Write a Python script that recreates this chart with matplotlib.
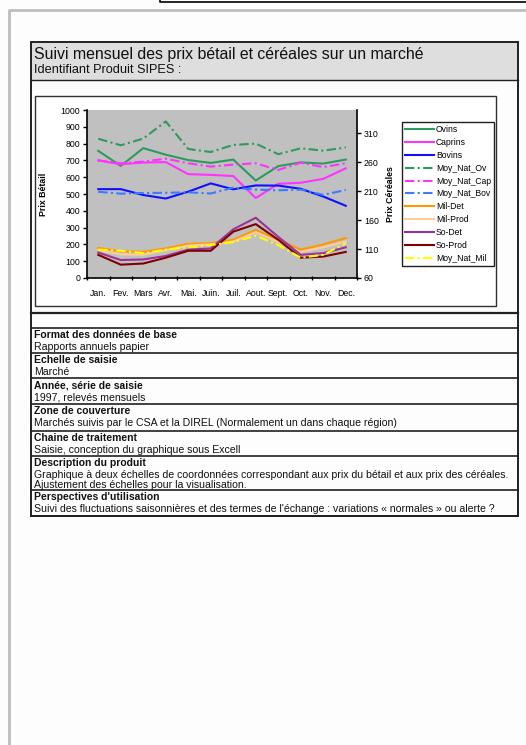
import numpy as np
import matplotlib
matplotlib.use('Agg')
from matplotlib import pyplot as plt
from matplotlib.patches import Rectangle

plt.rcParams['font.family'] = ['Liberation Sans', 'DejaVu Sans']

W, H = 526, 745

months = ['Jan.', 'Fev.', 'Mars', 'Avr.', 'Mai.', 'Juin.', 'Juil.', 'Aout.',
          'Sept.', 'Oct.', 'Nov.', 'Dec.']

# livestock prices (left axis)
ovins = [757, 667, 773, 734, 702, 685, 705, 580, 666, 688, 681, 705]
caprins = [700, 677, 687, 690, 618, 614, 607, 476, 561, 567, 590, 653]
bovins = [529, 529, 494, 473, 514, 563, 528, 551, 550, 531, 485, 430]
moy_nat_ov = [829, 790, 830, 932, 768, 750, 792, 800, 737, 772, 758, 777]
moy_nat_cap = [700, 683, 693, 710, 683, 663, 675, 683, 643, 686, 660, 683]
moy_nat_bov = [513, 502, 506, 507, 510, 503, 538, 526, 522, 526, 495, 524]

# cereal prices (right axis)
mil_det = [112, 106, 105, 111, 119, 120, 126, 143, 126, 109, 118, 129]
mil_prod = [108, 101, 100, 108, 116, 118, 123, 139, 122, 105, 113, 123]
so_det = [104, 91, 92, 98, 109, 111, 144, 164, 131, 100, 103, 113]
so_prod = [100, 83, 85, 95, 107, 107, 140, 153, 126, 95, 97, 105]
moy_nat_mil = [109, 107, 103, 109, 113, 117, 122, 133, 117, 95, 100, 120]

left_ticks = list(range(0, 1001, 100))
right_ticks = [60, 110, 160, 210, 260, 310]

rows = [
    ('Format des données de base', ['Rapports annuels papier']),
    ('Echelle de saisie', ['Marché']),
    ('Année, série de saisie', ['1997, relevés mensuels']),
    ('Zone de couverture',
     ['Marchés suivis par le CSA et la DIREL (Normalement un dans chaque région)']),
    ('Chaine de traitement', ['Saisie, conception du graphique sous Excell']),
    ('Description du produit',
     ['Graphique à deux échelles de coordonnées correspondant aux prix du bétail et aux prix des céréales.',
      'Ajustement des échelles pour la visualisation.']),
    ("Perspectives d'utilisation",
     ["Suivi des fluctuations saisonnières et des termes de l'échange : variations « normales » ou alerte ?"]),
]
row_lines = [328, 353, 378, 404, 431, 456, 490, 516]


def frac(x0, y0, x1, y1):
    return [x0 / W, 1 - y1 / H, (x1 - x0) / W, (y1 - y0) / H]


def main():
    fig = plt.figure(figsize=(W / 100, H / 100), dpi=100)
    fig.patch.set_facecolor('#fdfdfd')

    bg = fig.add_axes([0, 0, 1, 1])
    bg.set_xlim(0, W)
    bg.set_ylim(H, 0)
    bg.axis('off')

    # page frame
    bg.plot([160, 160, W], [0, 2.3, 2.3], color='black', lw=1.2)
    bg.plot([9, 9, W], [H, 10, 10], color='#bdbdbd', lw=2)

    # header
    bg.add_patch(Rectangle((31, 42), 487, 38, facecolor='#dedede', edgecolor='none'))
    bg.text(34, 54, 'Suivi mensuel des prix bétail et céréales sur un marché',
            fontsize=11.4, va='center', color='#111111')
    bg.text(34, 70, 'Identifiant Produit SIPES :', fontsize=9.2, va='center', color='#111111')
    bg.plot([31, 518], [80, 80], color='#202020', lw=1)

    # chart frame
    bg.add_patch(Rectangle((35, 96), 461, 210, facecolor='white', edgecolor='#303030', lw=1))

    # table
    bg.add_patch(Rectangle((31, 42), 487, 474, facecolor='none', edgecolor='#202020', lw=1.4))
    bg.plot([31, 518], [313, 313], color='#202020', lw=1.6)
    for y in row_lines:
        bg.plot([31, 518], [y, y], color='#202020', lw=1.2)
    for (head, lines), y0 in zip(rows, row_lines[:-1]):
        bg.text(34, y0 + 7, head, fontsize=7.5, fontweight='bold', va='center', color='#111111')
        for i, line in enumerate(lines):
            bg.text(34, y0 + 19 + 10.5 * i, line, fontsize=7.6, va='center', color='#111111')

    # chart
    ax = fig.add_axes(frac(87, 110, 357, 278))
    ax.set_facecolor('#c0c0c0')
    x = np.arange(len(months)) + 0.5
    dash = (0, (4.5, 1.6, 1, 1.6))
    lw = 1.5
    h = []
    h += ax.plot(x, ovins, color='#2e9a5c', lw=lw, label='Ovins')
    h += ax.plot(x, caprins, color='#ff33ff', lw=lw, label='Caprins')
    h += ax.plot(x, bovins, color='#1010ff', lw=lw, label='Bovins')
    h += ax.plot(x, moy_nat_ov, color='#2e9a5c', lw=lw, ls=dash, label='Moy_Nat_Ov')
    h += ax.plot(x, moy_nat_cap, color='#ff33ff', lw=lw, ls=dash, label='Moy_Nat_Cap')
    h += ax.plot(x, moy_nat_bov, color='#3a7bff', lw=lw, ls=dash, label='Moy_Nat_Bov')
    ax.set_xlim(0, 12)
    ax.set_ylim(0, 1000)
    ax.set_yticks(left_ticks)
    ax.set_xticks(np.arange(13))
    ax.set_xticklabels([])
    ax.set_xticks(x, minor=True)
    ax.set_xticklabels(months, minor=True)
    ax.tick_params(axis='x', which='minor', length=0, labelsize=6.3, pad=8)
    ax.tick_params(axis='x', which='major', length=3, width=1, direction='inout')
    ax.tick_params(axis='y', length=3, width=1, labelsize=6.3, pad=2)
    for s in ['top', 'right']:
        ax.spines[s].set_visible(False)
    ax.spines['left'].set_linewidth(1.2)
    ax.spines['bottom'].set_linewidth(1.2)
    ax.set_ylabel('Prix Bétail', fontsize=6.3, fontweight='bold')
    ax.yaxis.set_label_coords(-0.144, 0.5)

    ax2 = ax.twinx()
    h += ax2.plot(x, mil_det, color='#ff9900', lw=lw, label='Mil-Det')
    h += ax2.plot(x, mil_prod, color='#ffcc99', lw=lw, label='Mil-Prod')
    h += ax2.plot(x, so_det, color='#993399', lw=lw, label='So-Det')
    h += ax2.plot(x, so_prod, color='#800000', lw=lw, label='So-Prod')
    h += ax2.plot(x, moy_nat_mil, color='#ffff00', lw=lw, ls=dash, label='Moy_Nat_Mil')
    ax2.set_ylim(60, 350)
    ax2.set_yticks(right_ticks)
    ax2.tick_params(axis='y', length=3, width=1, labelsize=6.3, pad=2)
    for s in ['top', 'left', 'bottom']:
        ax2.spines[s].set_visible(False)
    ax2.spines['right'].set_linewidth(1.2)
    ax2.set_ylabel('Prix Céréales', fontsize=6.3, fontweight='bold')
    ax2.yaxis.set_label_coords(1.107, 0.5)

    leg = ax2.legend(h, [l.get_label() for l in h], loc='upper left',
                     bbox_to_anchor=(402 / W, 1 - 122 / H), bbox_transform=fig.transFigure,
                     borderaxespad=0, fontsize=6.2, frameon=True, fancybox=False,
                     edgecolor='#202020', facecolor='white', framealpha=1,
                     handlelength=3.4, handletextpad=0.2, labelspacing=0.45, borderpad=0.35)
    leg.get_frame().set_linewidth(1)

    fig.savefig('out.png', dpi=100, facecolor=fig.get_facecolor())


if __name__ == '__main__':
    main()
